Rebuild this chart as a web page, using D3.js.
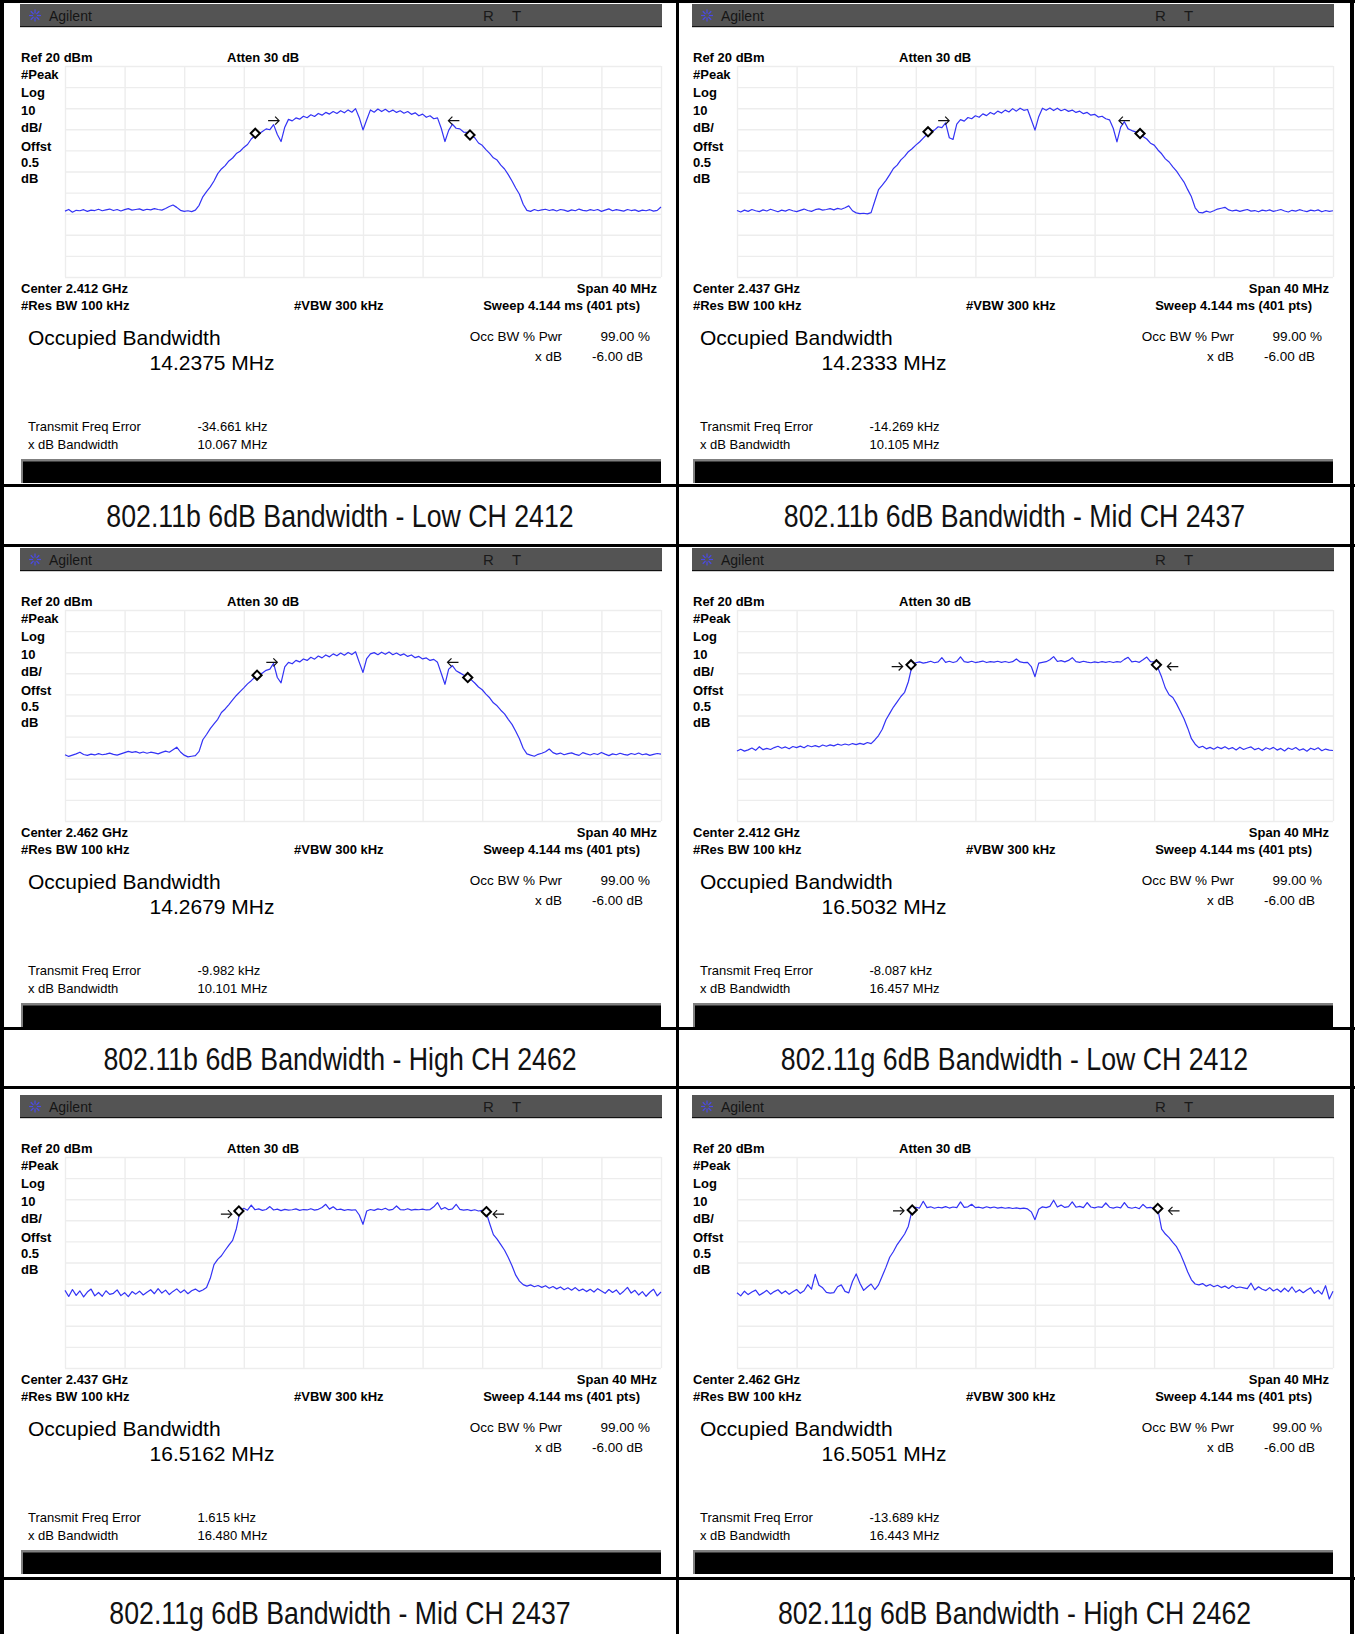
<!DOCTYPE html>
<html>
<head>
<meta charset="utf-8">
<script src="https://cdn.jsdelivr.net/npm/d3@7"></script>
<style>
  body { margin: 0; background: #fff; }
  svg { display: block; }
  text { font-family: "Liberation Sans", Arial, sans-serif; }
</style>
</head>
<body>
<div id="chart"></div>
<script>
// sweep: -20..+20 MHz around center, one reading every 0.25 MHz (dBm)
var bLowTrace = [
  -48.8, -48.0, -49.3, -48.4, -48.6, -48.1, -48.9, -48.3,
  -48.5, -47.9, -48.6, -48.2, -47.8, -48.5, -48.0, -48.7,
  -48.1, -47.6, -48.3, -48.0, -47.7, -48.4, -47.9, -48.2,
  -47.6, -48.0, -48.3, -47.5, -46.6, -45.9, -47.0, -48.4,
  -48.9, -48.6, -49.0, -48.3, -46.0, -42.0, -39.5, -37.3,
  -34.5, -31.0, -28.8, -27.2, -25.0, -23.6, -21.5, -20.4,
  -18.6, -17.2, -14.6, -13.0, -12.2, -11.0, -9.8, -10.2,
  -7.8, -12.5, -15.8, -9.0, -5.3, -6.0, -4.6, -5.2,
  -3.8, -4.5, -3.1, -3.9, -2.5, -3.3, -2.0, -2.8,
  -1.6, -2.5, -1.2, -2.2, -0.8, -1.9, -0.2, -4.5,
  -10.3, -5.5, -0.8, -1.9, -0.4, -1.6, -0.5, -1.8,
  -0.9, -2.0, -1.2, -2.4, -1.6, -2.9, -2.2, -3.6,
  -2.8, -4.3, -3.6, -5.0, -4.6, -9.5, -15.8, -10.5,
  -7.6, -9.5, -9.8, -11.3, -11.5, -12.9, -14.0, -16.5,
  -17.6, -19.6, -21.4, -23.5, -24.6, -27.0, -28.8, -31.5,
  -34.5, -37.8, -40.8, -45.5, -48.4, -48.9, -48.0, -48.6,
  -48.2, -47.9, -48.5, -48.1, -48.7, -48.0, -48.3, -48.9,
  -48.2, -48.6, -47.8, -48.4, -48.7, -48.1, -48.5, -48.0,
  -48.9, -48.3, -47.7, -48.6, -48.1, -48.4, -48.8, -48.0,
  -48.5, -48.2, -48.9, -48.3, -48.6, -48.1, -48.8, -48.4,
  -46.8
];
var bMidTrace = [
  -48.5, -49.2, -48.3, -48.9, -48.0, -48.6, -49.0, -48.2,
  -48.7, -47.9, -48.5, -49.1, -48.3, -48.8, -48.0, -48.6,
  -49.0, -48.4, -47.8, -48.5, -48.9, -48.1, -47.7, -48.3,
  -48.0, -47.6, -48.2, -47.5, -47.9, -47.2, -46.3, -48.6,
  -49.6, -50.0, -49.8, -50.1, -49.5, -44.0, -38.6, -36.5,
  -34.2, -31.5, -28.6, -27.0, -24.5, -22.8, -20.6, -19.2,
  -17.5, -16.0, -14.2, -12.4, -11.0, -10.4, -8.8, -9.2,
  -7.0, -14.0, -14.8, -7.5, -5.4, -6.1, -4.4, -5.0,
  -3.6, -4.3, -2.7, -3.5, -2.0, -2.9, -1.4, -2.3,
  -0.9, -1.8, -0.2, -1.4, 0.0, -1.0, -0.6, -5.5,
  -10.4, -4.0, 0.0, -1.0, 0.1, -1.1, 0.0, -1.2,
  -0.5, -1.5, -0.9, -2.0, -1.4, -2.6, -2.0, -3.3,
  -2.9, -4.2, -3.8, -5.0, -5.5, -9.5, -16.0, -9.0,
  -6.4, -9.8, -10.6, -11.2, -12.1, -13.4, -14.6, -16.6,
  -17.5, -19.8, -21.6, -24.0, -25.5, -27.8, -29.8, -32.5,
  -35.0, -38.6, -42.0, -47.2, -49.4, -49.6, -48.8, -49.3,
  -48.6, -47.8, -47.4, -47.0, -48.2, -48.7, -48.3, -48.9,
  -48.4, -48.0, -48.8, -48.5, -49.1, -48.3, -48.7, -48.2,
  -48.9, -48.5, -48.0, -48.7, -49.2, -48.4, -48.8, -48.1,
  -48.6, -49.0, -48.3, -48.7, -48.2, -49.1, -48.5, -48.9,
  -48.6
];
var bHighTrace = [
  -48.6, -49.4, -48.8, -48.2, -47.4, -48.5, -48.9, -48.3,
  -48.7, -48.1, -48.6, -48.3, -47.8, -48.4, -48.8, -48.2,
  -47.6, -47.0, -47.5, -47.1, -47.8, -47.3, -47.9, -47.4,
  -47.7, -48.2, -47.5, -46.9, -47.4, -46.2, -45.0, -47.3,
  -48.8, -49.6, -49.3, -49.0, -47.0, -41.5, -39.0, -36.2,
  -34.0, -31.8, -28.6, -26.9, -24.8, -22.6, -20.5, -18.7,
  -16.9, -15.0, -13.5, -11.8, -10.6, -9.9, -8.6, -8.0,
  -5.3, -12.0, -14.5, -7.0, -4.8, -5.5, -3.9, -4.6,
  -3.2, -3.9, -2.4, -3.3, -1.8, -2.7, -1.3, -2.2,
  -0.8, -1.7, -0.4, -1.4, -0.1, -1.1, 0.2, -4.8,
  -9.6, -3.0, -0.8, -0.2, -1.2, 0.0, -1.0, 0.1,
  -1.2, -0.4, -1.5, -0.8, -2.0, -1.3, -2.6, -2.0,
  -3.2, -2.7, -3.9, -3.4, -4.8, -10.0, -15.2, -8.0,
  -6.4, -8.8, -9.8, -10.8, -12.0, -13.0, -14.6, -16.5,
  -17.8, -19.9, -21.6, -24.0, -25.4, -27.5, -29.2, -31.8,
  -34.2, -37.5, -41.0, -45.5, -48.2, -48.8, -49.3, -48.4,
  -47.9, -47.2, -45.9, -47.6, -48.3, -47.8, -48.6, -48.1,
  -47.7, -48.4, -48.9, -47.6, -48.2, -48.7, -48.0, -48.5,
  -47.5, -48.3, -49.0, -48.2, -48.6, -47.9, -48.4, -48.8,
  -48.0, -48.5, -47.8, -48.6, -48.2, -48.9, -48.4, -48.0,
  -48.3
];
var gLowTrace = [
  -46.8, -46.0, -46.9, -46.3, -45.4, -46.5, -44.8, -46.2,
  -45.6, -46.1, -45.2, -44.6, -45.5, -44.9, -45.8, -44.7,
  -45.2, -44.5, -45.3, -44.2, -44.8, -44.3, -44.9, -44.0,
  -44.6, -43.9, -44.4, -43.6, -44.1, -43.5, -44.0, -43.3,
  -43.8, -43.2, -43.7, -42.8, -43.3, -41.6, -39.5, -36.5,
  -32.0, -29.0, -26.0, -23.5, -21.0, -19.0, -14.0, -6.4,
  -5.0, -4.6, -5.2, -4.8, -4.3, -5.0, -4.6, -2.6,
  -4.8, -4.3, -4.9, -4.4, -2.2, -4.5, -4.8, -4.3,
  -4.9, -4.6, -4.2, -4.9, -4.5, -4.7, -4.3, -4.8,
  -4.4, -4.9, -4.5, -3.2, -4.6, -4.9, -4.8, -6.8,
  -11.6, -5.2, -4.8, -4.5, -3.6, -2.1, -4.4, -4.0,
  -4.6, -3.9, -2.6, -4.5, -4.8, -4.3, -4.7, -5.0,
  -4.6, -4.9, -4.5, -4.8, -4.4, -4.9, -4.5, -4.7,
  -3.4, -2.4, -4.6, -4.3, -4.8, -3.6, -2.3, -4.5,
  -4.6, -7.5, -11.8, -17.0, -20.2, -21.5, -24.5, -28.0,
  -31.5, -36.0, -41.0, -43.6, -45.2, -44.6, -45.8, -45.1,
  -46.0, -44.9, -45.7, -44.8, -45.9, -45.2, -46.3, -45.0,
  -46.1, -45.4, -44.9, -46.2, -45.5, -46.6, -45.3, -46.0,
  -45.1, -46.4, -45.6, -46.8, -45.4, -46.1, -45.2, -46.5,
  -45.8, -46.9, -45.5, -46.2, -45.3, -46.7, -45.9, -46.4,
  -46.6
];
var gMidTrace = [
  -43.2, -46.1, -42.8, -45.6, -43.5, -46.3, -44.0, -42.6,
  -45.8, -44.2, -46.0, -43.4, -45.1, -44.6, -43.0, -45.7,
  -44.3, -46.2, -43.8, -45.0, -43.6, -45.4, -44.1, -42.9,
  -44.8, -42.4, -44.5, -43.1, -45.2, -43.7, -42.5, -44.3,
  -43.0, -44.8, -43.4, -42.6, -43.8, -43.0, -41.8, -37.5,
  -31.0, -28.5, -26.8, -24.2, -21.8, -19.5, -14.0, -5.6,
  -4.3, -5.2, -2.8, -5.0, -4.6, -5.3, -4.9, -3.5,
  -5.1, -4.7, -5.4, -4.8, -5.2, -5.0, -4.6, -5.3,
  -4.9, -5.1, -4.5, -5.2, -4.8, -3.9, -2.4, -4.7,
  -3.6, -5.0, -4.7, -5.3, -4.9, -5.2, -5.0, -7.5,
  -11.9, -5.6, -4.9, -5.3, -4.6, -5.0, -4.3, -5.2,
  -4.8, -3.2, -4.9, -5.1, -4.5, -5.2, -4.8, -5.0,
  -4.7, -5.1, -4.9, -3.6, -1.6, -4.8, -3.9, -5.0,
  -4.6, -2.4, -4.8, -5.2, -4.9, -5.4, -5.0, -5.6,
  -5.3, -5.9, -11.5, -16.8, -18.9, -21.5, -24.2, -27.6,
  -31.5, -36.0, -38.8, -40.5, -41.2, -40.6, -41.5, -40.9,
  -41.8, -41.0, -42.2, -41.4, -42.5, -41.6, -42.9, -42.0,
  -43.1, -41.9, -43.4, -42.6, -43.8, -42.7, -44.0, -42.4,
  -43.5, -44.6, -42.8, -44.2, -43.0, -45.1, -43.6, -41.8,
  -44.5, -43.2, -45.4, -43.8, -46.0, -44.1, -42.7, -45.8,
  -44.0
];
var gHighTrace = [
  -44.3, -45.8, -43.6, -45.2, -44.0, -43.1, -45.5, -44.4,
  -43.2, -45.0, -43.8, -42.9, -44.7, -43.5, -45.1, -43.9,
  -42.8, -44.6, -43.4, -40.5, -42.6, -35.6, -40.8, -42.0,
  -44.2, -44.5, -44.3, -41.5, -40.6, -43.7, -44.4, -39.0,
  -35.4, -39.8, -43.2, -41.6, -40.2, -42.8, -40.6, -36.4,
  -32.2, -27.5, -24.8, -21.5, -19.0, -16.5, -12.8, -5.2,
  -3.8, -4.2, -1.0, -4.0, -3.6, -4.3, -3.8, -4.1,
  -3.5, -4.2, -3.7, -4.0, -1.3, -3.9, -3.6, -2.4,
  -4.0, -3.8, -4.2, -3.6, -4.1, -3.7, -4.2, -3.9,
  -4.3, -4.0, -4.4, -4.1, -4.5, -4.2, -4.6, -6.0,
  -9.7, -4.8, -3.6, -4.0, -3.4, -0.5, -3.7, -2.8,
  -3.9, -3.5, -1.3, -3.8, -3.4, -4.0, -1.6, -3.7,
  -4.1, -3.6, -3.9, -1.8, -3.8, -4.2, -3.7, -4.1,
  -1.6, -3.9, -4.3, -3.8, -4.5, -2.5, -4.1, -3.9,
  -4.4, -5.0, -14.2, -16.5, -18.2, -20.5, -22.5, -25.8,
  -30.0, -34.5, -38.2, -40.2, -40.6, -40.0, -41.2, -40.4,
  -41.5, -40.8, -41.9, -41.2, -42.3, -40.9, -42.0, -41.6,
  -42.0, -42.4, -39.8, -43.0, -41.5, -42.7, -43.3, -41.9,
  -43.5, -42.6, -44.0, -42.2, -43.8, -41.6, -44.1, -42.9,
  -44.3, -43.0, -42.0, -44.6, -43.2, -45.0, -41.0, -47.3,
  -43.6
];

// diamond markers [MHz, dBm] left/right, arrows [left MHz, right MHz, dBm]
var diamonds = [
  [[-7.23, -11.9], [7.18, -12.7]],
  [[-7.18, -11.2], [7.05, -12.0]],
  [[-7.11, -10.9], [7.03, -12.0]],
  [[-8.32, -6.0], [8.15, -6.0]],
  [[-8.33, -5.6], [8.28, -5.9]],
  [[-8.24, -5.1], [8.24, -4.4]]
];
var arrows = [
  [-6.0, 6.1, -5.9],
  [-6.13, 6.0, -5.9],
  [-6.12, 6.04, -4.8],
  [-9.25, 9.25, -6.8],
  [-9.17, 9.1, -7.1],
  [-9.16, 9.33, -5.5]
];

var centerFreqs = ["2.412", "2.437", "2.462", "2.412", "2.437", "2.462"];
var occBw = ["14.2375", "14.2333", "14.2679", "16.5032", "16.5162", "16.5051"];
var freqErrors = ["-34.661", "-14.269", "-9.982", "-8.087", "1.615", "-13.689"];
var xdbBw = ["10.067", "10.105", "10.101", "16.457", "16.480", "16.443"];
var captions = [
  "802.11b 6dB Bandwidth - Low CH 2412",
  "802.11b 6dB Bandwidth - Mid CH 2437",
  "802.11b 6dB Bandwidth - High CH 2462",
  "802.11g 6dB Bandwidth - Low CH 2412",
  "802.11g 6dB Bandwidth - Mid CH 2437",
  "802.11g 6dB Bandwidth - High CH 2462"
];
var traces = [bLowTrace, bMidTrace, bHighTrace, gLowTrace, gMidTrace, gHighTrace];

var freqTicks = [-20, -16, -12, -8, -4, 0, 4, 8, 12, 16, 20];
var levelTicks = [20, 10, 0, -10, -20, -30, -40, -50, -60, -70, -80];
var sideLabels = ["#Peak", "Log", "10", "dB/", "Offst", "0.5", "dB"];

var W = 1355, H = 1634;
var colX = [0, 672], rowY = [0, 544, 1091];
var captionY = [526.7, 1070, 1624];
var gx = 65, gy = 66, gw = 596, gh = 211;

var svg = d3.select("#chart").append("svg")
    .attr("width", W)
    .attr("height", H);

svg.append("rect").attr("width", W).attr("height", H).attr("fill", "#fff");

traces.forEach(function(trace, i) {
  var col = i % 2, row = Math.floor(i / 2);
  var g = svg.append("g")
      .attr("transform", "translate(" + colX[col] + "," + rowY[row] + ")");

  var x = d3.scaleLinear().domain([-20, 20]).range([gx, gx + gw]);
  var y = d3.scaleLinear().domain([-80, 20]).range([gy + gh, gy]);

  // header bar
  g.append("rect").attr("x", 20).attr("y", 4).attr("width", 642).attr("height", 23).attr("fill", "#545454");
  g.append("rect").attr("x", 20).attr("y", 26).attr("width", 642).attr("height", 1.2).attr("fill", "#111");
  var star = g.append("g").attr("transform", "translate(35,15.5)");
  d3.range(8).forEach(function(k) {
    var a = k * Math.PI / 4;
    star.append("line")
        .attr("x1", Math.cos(a) * 2).attr("y1", Math.sin(a) * 2)
        .attr("x2", Math.cos(a) * 6).attr("y2", Math.sin(a) * 6)
        .attr("stroke", "#4a4ae8").attr("stroke-width", 1.2);
  });
  g.append("text").attr("x", 49).attr("y", 20.7).attr("font-size", 14).attr("fill", "#151515").text("Agilent");
  g.append("text").attr("x", 483).attr("y", 21).attr("font-size", 15).attr("fill", "#1a1a1a").text("R");
  g.append("text").attr("x", 512).attr("y", 21).attr("font-size", 15).attr("fill", "#1a1a1a").text("T");

  // grid
  var grid = g.append("g").attr("class", "grid");
  grid.append("g")
      .attr("transform", "translate(0," + (gy + gh) + ")")
      .call(d3.axisBottom(x).tickValues(freqTicks).tickSize(-gh).tickFormat(""));
  grid.append("g")
      .attr("transform", "translate(" + gx + ",0)")
      .call(d3.axisLeft(y).tickValues(levelTicks).tickSize(-gw).tickFormat(""));
  grid.selectAll(".domain").remove();
  grid.selectAll(".tick line").attr("stroke", "#ededed").attr("stroke-width", 1.4);

  // trace
  var line = d3.line()
      .x(function(d, k) { return x(-20 + k * 0.25); })
      .y(function(d) { return y(d); });
  g.append("path")
      .datum(trace)
      .attr("d", line)
      .attr("fill", "none")
      .attr("stroke", "#3333f5")
      .attr("stroke-width", 1.2)
      .attr("stroke-linejoin", "round");

  // markers
  diamonds[i].forEach(function(m) {
    g.append("path")
        .attr("d", "M0,-4.6L4.6,0L0,4.6L-4.6,0Z")
        .attr("transform", "translate(" + x(m[0]) + "," + y(m[1]) + ")")
        .attr("fill", "#fff").attr("stroke", "#000").attr("stroke-width", 2);
  });
  var ar = arrows[i];
  g.append("path")
      .attr("d", "M-5.5,0H5.5M1.5,-4L5.5,0L1.5,4")
      .attr("transform", "translate(" + x(ar[0]) + "," + y(ar[2]) + ")")
      .attr("fill", "none").attr("stroke", "#111").attr("stroke-width", 1.2);
  g.append("path")
      .attr("d", "M5.5,0H-5.5M-1.5,-4L-5.5,0L-1.5,4")
      .attr("transform", "translate(" + x(ar[1]) + "," + y(ar[2]) + ")")
      .attr("fill", "none").attr("stroke", "#111").attr("stroke-width", 1.2);

  // bold instrument labels
  function bold(t, px, py, anchor) {
    g.append("text").attr("x", px).attr("y", py)
        .attr("font-size", 13).attr("font-weight", "bold")
        .attr("text-anchor", anchor || "start").text(t);
  }
  bold("Ref 20 dBm", 21, 62);
  bold("Atten 30 dB", 227, 62);
  var sideY = [79, 96.8, 114.5, 132.2, 151, 167.2, 182.8];
  sideLabels.forEach(function(t, k) { bold(t, 21, sideY[k]); });
  bold("Center " + centerFreqs[i] + " GHz", 21, 292.8);
  bold("Span 40 MHz", 657, 292.8, "end");
  bold("#Res BW 100 kHz", 21, 309.6);
  bold("#VBW 300 kHz", 294, 309.6);
  bold("Sweep 4.144 ms (401 pts)", 640, 309.6, "end");

  // measurement readout
  function txt(t, px, py, size, anchor) {
    g.append("text").attr("x", px).attr("y", py)
        .attr("font-size", size)
        .attr("text-anchor", anchor || "start").text(t);
  }
  txt("Occupied Bandwidth", 28, 344.5, 21);
  txt(occBw[i] + " MHz", 149.6, 370, 21);
  txt("Occ BW % Pwr", 562, 341.2, 13.5, "end");
  txt("99.00 %", 650, 341.2, 13.5, "end");
  txt("x dB", 562, 361.2, 13.5, "end");
  txt("-6.00 dB", 592, 361.2, 13.5);
  txt("Transmit Freq Error", 28, 431.2, 13);
  txt(freqErrors[i] + " kHz", 197.5, 431.2, 13);
  txt("x dB Bandwidth", 28, 448.8, 13);
  txt(xdbBw[i] + " MHz", 197.5, 448.8, 13);

  // black status bar
  g.append("rect").attr("x", 21).attr("y", 459.5).attr("width", 640).attr("height", 23.5).attr("fill", "#000");
  g.append("rect").attr("x", 21).attr("y", 459.5).attr("width", 640).attr("height", 2).attr("fill", "#808080");
  g.append("rect").attr("x", 21).attr("y", 459.5).attr("width", 2).attr("height", 23.5).attr("fill", "#808080");

  // caption
  var cx = col === 0 ? 340 : 1014.5;
  svg.append("text")
      .attr("transform", "translate(" + cx + "," + captionY[row] + ") scale(0.835,1)")
      .attr("text-anchor", "middle")
      .attr("font-size", 32)
      .attr("fill", "#111")
      .text(captions[i]);
});

// table rules
var hRules = [0, 484, 544, 1027, 1086, 1577];
hRules.forEach(function(yy) {
  svg.append("rect").attr("x", 0).attr("y", yy).attr("width", W).attr("height", 3).attr("fill", "#000");
});
[[0, 4], [676, 3], [1350, 4]].forEach(function(v) {
  svg.append("rect").attr("x", v[0]).attr("y", 0).attr("width", v[1]).attr("height", H).attr("fill", "#000");
});
</script>
</body>
</html>
